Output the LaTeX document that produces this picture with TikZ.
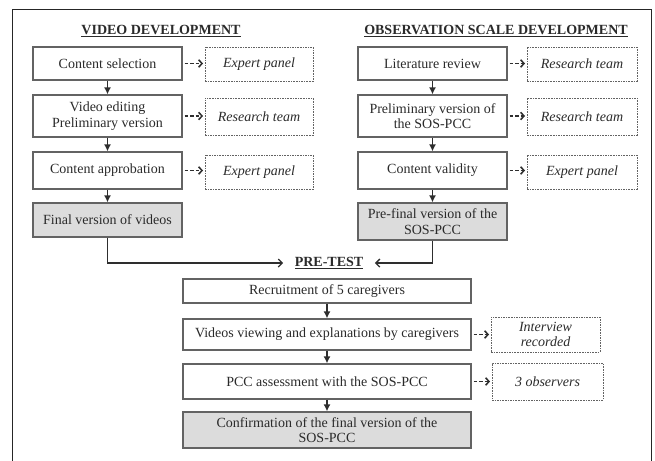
\documentclass[tikz,border=0pt]{standalone}
\usepackage{fontspec}
\setmainfont{Liberation Serif}
\usetikzlibrary{arrows.meta}
\definecolor{txt}{HTML}{2A2A2A}
\definecolor{bord}{HTML}{636363}
\definecolor{fillg}{HTML}{DCDCDC}
\definecolor{arr}{HTML}{2E2E2E}
\tikzset{
  mainbox/.style={draw=bord, line width=1.2pt, rectangle, inner sep=1pt, align=center, text=txt, font=\fontsize{14}{15.5}\selectfont},
  grbox/.style={mainbox, fill=fillg},
  dbox/.style={draw=bord, line width=0.8pt, dash pattern=on 1.6pt off 1pt, rectangle, inner sep=1pt, align=center, text=txt, font=\fontsize{14}{16}\selectfont\itshape},
  ttl/.style={text=txt, font=\fontsize{14}{16}\selectfont\bfseries},
  varr/.style={draw=arr, line width=1.4pt, -{Latex[length=7pt,width=7pt]}},
  darr/.style={draw=arr, line width=1.5pt, dash pattern=on 3.5pt off 2pt, -{Straight Barb[length=3.5pt,width=7.5pt]}},
  harr/.style={draw=arr, line width=1.4pt, -{Straight Barb[length=4pt,width=8pt]}},
}
\begin{document}
\begin{tikzpicture}[x=1pt,y=-1pt]
\useasboundingbox (0,0) rectangle (655,460);
% frame
\draw[line width=1.4pt, draw=black!85] (12.5,462) -- (12.5,9.5) -- (651.5,9.5) -- (651.5,462);
% titles
\node[ttl] (t1) at (161,31) {\underline{VIDEO DEVELOPMENT}};
\node[ttl] (t2) at (496,31) {\underline{OBSERVATION SCALE DEVELOPMENT}};
% left column
\node[mainbox, minimum width=149pt, minimum height=33pt] (cs) at (107.5,63.5) {Content selection};
\node[mainbox, minimum width=149pt, minimum height=42pt] (ve) at (107.5,116) {Video editing\\Preliminary version};
\node[mainbox, minimum width=149pt, minimum height=37pt] (ca) at (107.5,170.5) {Content approbation};
\node[grbox, minimum width=149pt, minimum height=34pt] (fv) at (107.5,220) {Final version of videos};
\node[dbox, minimum width=108pt, minimum height=34pt] (ep1) at (259,64) {Expert panel};
\node[dbox, minimum width=108pt, minimum height=37pt] (rt1) at (259,116.5) {Research team};
\node[dbox, minimum width=108pt, minimum height=34pt] (ep2) at (259,172) {Expert panel};
% right column
\node[mainbox, minimum width=149pt, minimum height=33pt] (lr) at (432.5,63.5) {Literature review};
\node[mainbox, minimum width=149pt, minimum height=42pt] (pv) at (432.5,116) {Preliminary version of\\the SOS-PCC};
\node[mainbox, minimum width=149pt, minimum height=37pt] (cv) at (432.5,170.5) {Content validity};
\node[grbox, minimum width=149pt, minimum height=37pt] (pf) at (432.5,221.5) {Pre-final version of the\\SOS-PCC};
\node[dbox, minimum width=110pt, minimum height=34pt] (rt2) at (582,64) {Research team};
\node[dbox, minimum width=110pt, minimum height=37pt] (rt3) at (582,116.5) {Research team};
\node[dbox, minimum width=110pt, minimum height=34pt] (ep3) at (582,172) {Expert panel};
% pre-test
\node[ttl] (pt) at (329,263) {\underline{PRE-TEST}};
\node[mainbox, minimum width=288pt, minimum height=24pt] (rc) at (327,291) {Recruitment of 5 caregivers};
\node[mainbox, minimum width=288pt, minimum height=31pt] (vv) at (327,334.5) {Videos viewing and explanations by caregivers};
\node[mainbox, minimum width=288pt, minimum height=35pt] (pa) at (327,381.5) {PCC assessment with the SOS-PCC};
\node[grbox, minimum width=288pt, minimum height=36pt] (cf) at (327,430) {Confirmation of the final version of the\\SOS-PCC};
\node[dbox, minimum width=109pt, minimum height=35pt, font=\fontsize{14}{15}\selectfont\itshape] (ir) at (545.5,334.5) {Interview\\recorded};
\node[dbox, minimum width=111pt, minimum height=37pt] (ob) at (547.5,381.5) {3 observers};
% vertical arrows
\draw[varr] (cs) -- (ve);
\draw[varr] (ve) -- (ca);
\draw[varr] (ca) -- (fv);
\draw[varr] (lr) -- (pv);
\draw[varr] (pv) -- (cv);
\draw[varr] (cv) -- (pf);
\draw[varr] (rc) -- (vv);
\draw[varr] (vv) -- (pa);
\draw[varr] (pa) -- (cf);
% dashed arrows
\draw[darr] ([xshift=2pt]cs.east) -- ([xshift=-1.5pt]ep1.west |- cs.east);
\draw[darr] ([xshift=2pt]ve.east) -- ([xshift=-1.5pt]rt1.west |- ve.east);
\draw[darr] ([xshift=2pt]ca.east) -- ([xshift=-1.5pt]ep2.west |- ca.east);
\draw[darr] ([xshift=2pt]lr.east) -- ([xshift=-1.5pt]rt2.west |- lr.east);
\draw[darr] ([xshift=2pt]pv.east) -- ([xshift=-1.5pt]rt3.west |- pv.east);
\draw[darr] ([xshift=2pt]cv.east) -- ([xshift=-1.5pt]ep3.west |- cv.east);
\draw[darr] ([xshift=2pt]vv.east) -- ([xshift=-1.5pt]ir.west |- vv.east);
\draw[darr] ([xshift=2pt]pa.east) -- ([xshift=-1.5pt]ob.west |- pa.east);
% merge arrows
\draw[harr] (fv.south) |- ([xshift=-8pt]pt.west);
\draw[harr] (pf.south) |- ([xshift=8pt]pt.east);
\end{tikzpicture}
\end{document}
